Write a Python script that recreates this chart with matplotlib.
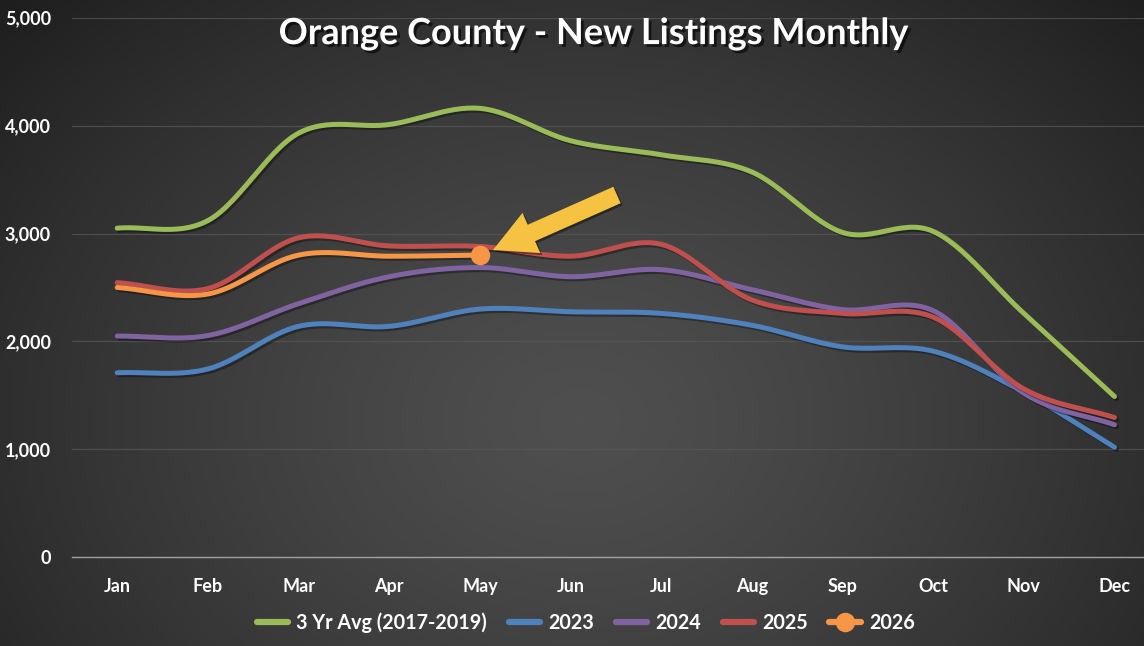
import numpy as np
import matplotlib
matplotlib.use('Agg')
import matplotlib.pyplot as plt
import matplotlib.patheffects as pe
from matplotlib.lines import Line2D
from matplotlib.legend_handler import HandlerLine2D
from matplotlib.patches import Polygon
from matplotlib.transforms import IdentityTransform

plt.rcParams['font.family'] = ['Lato', 'DejaVu Sans']
plt.rcParams['font.weight'] = 'bold'

months = ['Jan', 'Feb', 'Mar', 'Apr', 'May', 'Jun', 'Jul', 'Aug', 'Sep', 'Oct', 'Nov', 'Dec']
avg_3yr = [3050, 3120, 3930, 4010, 4160, 3860, 3730, 3570, 3010, 3020, 2260, 1490]
y2023 = [1710, 1745, 2140, 2140, 2300, 2275, 2260, 2150, 1950, 1910, 1530, 1020]
y2024 = [2050, 2055, 2350, 2600, 2685, 2600, 2665, 2480, 2295, 2285, 1520, 1228]
y2025 = [2545, 2490, 2960, 2885, 2880, 2790, 2900, 2385, 2260, 2225, 1560, 1295]
y2026 = [2500, 2440, 2800, 2790, 2800]

series = [
    ('3 Yr Avg (2017-2019)', avg_3yr, '#9BBB59'),
    ('2023', y2023, '#4F81BD'),
    ('2024', y2024, '#8064A2'),
    ('2025', y2025, '#C0504D'),
    ('2026', y2026, '#F79646'),
]


def smooth(x, y, n=30):
    # catmull-rom curve through the points, like excel's smoothed line
    x = np.asarray(x, float)
    y = np.asarray(y, float)
    px = np.concatenate([[2 * x[0] - x[1]], x, [2 * x[-1] - x[-2]]])
    py = np.concatenate([[2 * y[0] - y[1]], y, [2 * y[-1] - y[-2]]])
    t = np.linspace(0, 1, n)
    xs, ys = [], []
    for i in range(1, len(px) - 2):
        for p, out in ((px, xs), (py, ys)):
            p0, p1, p2, p3 = p[i - 1], p[i], p[i + 1], p[i + 2]
            out.append(0.5 * (2 * p1 + (-p0 + p2) * t + (2 * p0 - 5 * p1 + 4 * p2 - p3) * t ** 2
                              + (-p0 + 3 * p1 - 3 * p2 + p3) * t ** 3))
    return np.concatenate(xs), np.concatenate(ys)


class MarkerRightHandler(HandlerLine2D):
    def get_xdata(self, legend, xdescent, ydescent, width, height, fontsize):
        xdata, _ = super().get_xdata(legend, xdescent, ydescent, width, height, fontsize)
        return xdata, np.array([-xdescent + width * 0.8])


W, H = 1144, 646
fig = plt.figure(figsize=(W / 100, H / 100), dpi=100)

# radial gradient background
bg = fig.add_axes([0, 0, 1, 1], zorder=-5)
gx, gy = np.meshgrid(np.arange(W), np.arange(H))
r = np.sqrt(((gx - 580) / 720.0) ** 2 + ((gy - 420) / 560.0) ** 2)
shade = 0.31 - 0.17 * np.clip(r, 0, 1.2) ** 1.3
bg.imshow(np.dstack([shade] * 3), aspect='auto', extent=[0, 1, 0, 1])
bg.set_axis_off()

ax = fig.add_axes([71.9 / W, 88.7 / H, 1 - 71.9 / W, 539.6 / H])
ax.patch.set_alpha(0)
x = np.arange(len(months))

shadow = [pe.SimpleLineShadow(offset=(1.5, -1.5), shadow_color='black', alpha=0.35), pe.Normal()]
for name, vals, col in series:
    sx, sy = smooth(x[:len(vals)], vals)
    ax.plot(sx, sy, color=col, lw=3.6, solid_capstyle='round', path_effects=shadow, zorder=3)

ax.plot(x[len(y2026) - 1], y2026[-1], 'o', color='#F79646', ms=13, zorder=4)

ax.set_xlim(-0.5, (W - 116) / 90.77)
ax.set_ylim(0, 5000)
ax.set_yticks(range(0, 5001, 1000))
ax.set_yticklabels([f'{v:,}' for v in range(0, 5001, 1000)])
ax.set_xticks(x)
ax.set_xticklabels(months)
ax.tick_params(axis='both', length=0, colors='white', labelsize=13)
ax.tick_params(axis='y', pad=15)
ax.tick_params(axis='x', pad=15)
ax.grid(axis='y', color='#585858', lw=0.9, alpha=0.75)
for s in ['top', 'right', 'left']:
    ax.spines[s].set_visible(False)
ax.spines['bottom'].set_color('#a0a0a0')
ax.spines['bottom'].set_linewidth(1.0)

fig.text(0.5185, 0.948, 'Orange County - New Listings Monthly', color='white', fontsize=26,
         fontweight='bold', ha='center', va='center',
         path_effects=[pe.withSimplePatchShadow(offset=(2, -2), shadow_rgbFace='black', alpha=0.6)])

# yellow call-out arrow, pixel coordinates
tip = np.array([493.0, 250.0])
tail = np.array([617.0, 195.0])
u = (tip - tail) / np.linalg.norm(tip - tail)
nrm = np.array([-u[1], u[0]])
neck = tip - u * 42
pts = [tail + nrm * 9, neck + nrm * 9, neck + nrm * 22, tip, neck - nrm * 22, neck - nrm * 9, tail - nrm * 9]
pts = np.array([[p[0], H - p[1]] for p in pts])
fig.patches.append(Polygon(pts + [2, -2], closed=True, transform=IdentityTransform(), fc='black',
                           alpha=0.4, ec='none', zorder=6))
fig.patches.append(Polygon(pts, closed=True, transform=IdentityTransform(), fc='#F5C242',
                           ec='none', zorder=7))

handles = [Line2D([], [], color=c, lw=4.5, solid_capstyle='round') for _, _, c in series[:4]]
h2026 = Line2D([], [], color='#F79646', lw=4.5, marker='o', ms=13, solid_capstyle='round')
handles.append(h2026)
leg = fig.legend(handles, [s[0] for s in series], loc='center', bbox_to_anchor=(0.512, 0.036),
                 ncol=5, frameon=False, fontsize=14.2, handlelength=1.6, handletextpad=0.4,
                 columnspacing=1.1, labelcolor='white', handler_map={h2026: MarkerRightHandler(numpoints=1)})

fig.savefig('out.png', dpi=100)
